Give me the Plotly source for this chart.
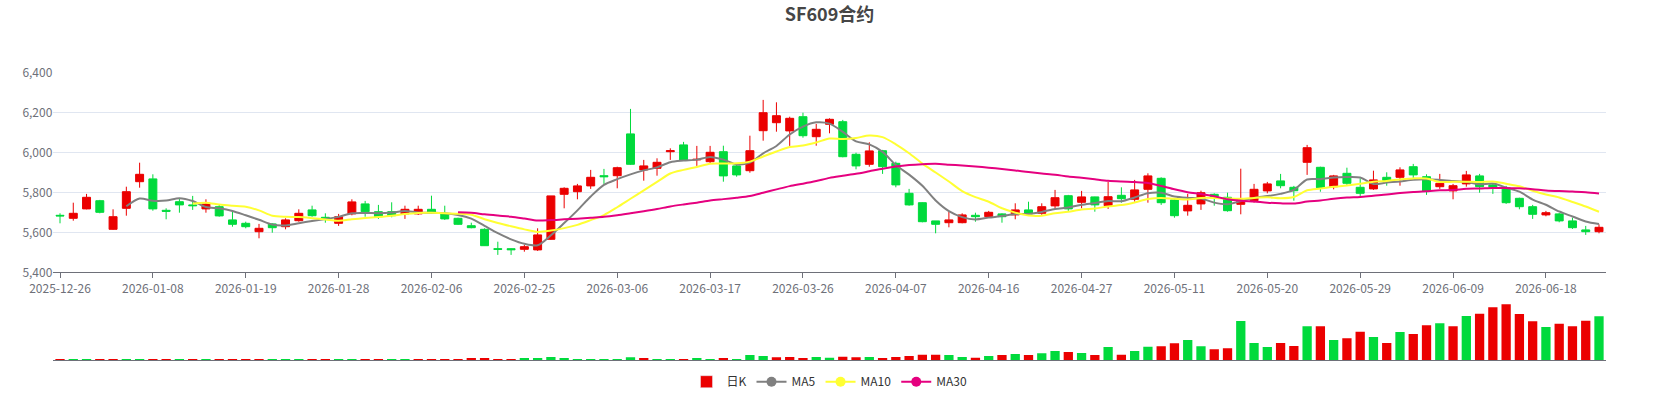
import pandas as pd
import plotly.graph_objects as go

# trading days SF609 (exchange holidays removed)
holidays = ['2026-01-01', '2026-01-02', '2026-02-16', '2026-02-17', '2026-02-18', '2026-02-19',
            '2026-02-20', '2026-02-23', '2026-04-06', '2026-05-01', '2026-05-04', '2026-05-05', '2026-06-19']
days = pd.bdate_range('2025-12-26', '2026-06-25')
dates = [d.strftime('%Y-%m-%d') for d in days if d.strftime('%Y-%m-%d') not in holidays]

opens = [5685, 5670, 5717, 5758, 5615, 5720, 5853, 5867, 5710, 5753,
         5737, 5717, 5728, 5662, 5645, 5603, 5642, 5628, 5658, 5712,
         5675, 5645, 5692, 5742, 5703, 5703, 5692, 5692, 5715, 5692,
         5670, 5633, 5615, 5518, 5518, 5515, 5512, 5565, 5790, 5803,
         5832, 5883, 5883, 6092, 5912, 5920, 6003, 6037, 5962, 5953,
         6003, 5932, 5908, 6108, 6148, 6107, 6178, 6078, 6140, 6153,
         5990, 5940, 6008, 5945, 5795, 5748, 5657, 5648, 5648, 5685,
         5678, 5692, 5687, 5712, 5695, 5732, 5783, 5750, 5777, 5733,
         5785, 5765, 5815, 5870, 5762, 5707, 5742, 5790, 5775, 5740,
         5758, 5807, 5857, 5825, 5950, 5925, 5828, 5895, 5825, 5817,
         5875, 5875, 5928, 5878, 5828, 5807, 5842, 5882, 5837, 5823,
         5770, 5728, 5687, 5692, 5657, 5612, 5603]
closes = [5682, 5695, 5775, 5700, 5678, 5803, 5890, 5717, 5705, 5737,
          5733, 5742, 5682, 5640, 5628, 5620, 5623, 5662, 5695, 5683,
          5668, 5678, 5752, 5703, 5678, 5683, 5715, 5715, 5698, 5667,
          5640, 5623, 5533, 5515, 5513, 5528, 5587, 5782, 5820, 5832,
          5875, 5878, 5923, 5940, 5932, 5950, 6008, 5962, 5965, 6000,
          5882, 5887, 6008, 6198, 6183, 6170, 6083, 6115, 6165, 5978,
          5932, 6007, 5928, 5837, 5737, 5653, 5640, 5662, 5687, 5678,
          5700, 5678, 5712, 5692, 5728, 5773, 5717, 5777, 5737, 5778,
          5768, 5812, 5882, 5748, 5683, 5735, 5798, 5778, 5708, 5762,
          5815, 5842, 5833, 5808, 6023, 5823, 5882, 5845, 5795, 5862,
          5858, 5912, 5887, 5807, 5845, 5833, 5887, 5828, 5825, 5748,
          5728, 5690, 5698, 5657, 5623, 5603, 5625]
lows = [5645, 5658, 5715, 5695, 5612, 5683, 5823, 5708, 5665, 5698,
        5712, 5698, 5678, 5628, 5620, 5570, 5598, 5615, 5653, 5678,
        5648, 5632, 5685, 5678, 5667, 5675, 5667, 5687, 5695, 5662,
        5637, 5620, 5532, 5487, 5487, 5503, 5507, 5562, 5720, 5765,
        5817, 5842, 5820, 5937, 5858, 5883, 5962, 5958, 5932, 5945,
        5853, 5878, 5898, 6058, 6103, 6032, 6073, 6033, 6095, 5975,
        5915, 5928, 5892, 5825, 5733, 5650, 5595, 5625, 5645, 5653,
        5675, 5648, 5665, 5687, 5687, 5715, 5707, 5720, 5703, 5717,
        5748, 5753, 5748, 5737, 5673, 5683, 5712, 5733, 5703, 5690,
        5748, 5795, 5820, 5758, 5887, 5803, 5815, 5837, 5778, 5812,
        5833, 5833, 5870, 5787, 5817, 5765, 5828, 5798, 5792, 5742,
        5715, 5667, 5680, 5650, 5617, 5587, 5595]
highs = [5695, 5748, 5792, 5762, 5715, 5828, 5948, 5890, 5720, 5770,
         5782, 5765, 5737, 5703, 5653, 5642, 5645, 5670, 5715, 5733,
         5695, 5692, 5765, 5757, 5737, 5750, 5733, 5733, 5783, 5733,
         5673, 5648, 5620, 5553, 5520, 5537, 5620, 5782, 5825, 5842,
         5912, 5917, 5928, 6217, 5962, 5970, 6020, 6052, 6032, 6032,
         6033, 5942, 6083, 6262, 6250, 6178, 6198, 6142, 6170, 6162,
         5998, 6050, 6012, 5953, 5817, 5750, 5657, 5703, 5695, 5698,
         5707, 5695, 5745, 5753, 5745, 5812, 5787, 5807, 5778, 5853,
         5825, 5862, 5895, 5875, 5765, 5792, 5808, 5795, 5798, 5918,
         5842, 5852, 5892, 5832, 6037, 5928, 5887, 5923, 5870, 5908,
         5900, 5925, 5942, 5890, 5892, 5842, 5907, 5892, 5842, 5832,
         5773, 5737, 5707, 5698, 5673, 5632, 5640]
volumes = [100, 100, 100, 100, 100, 200, 200, 200, 200, 200,
           200, 200, 200, 200, 200, 100, 100, 100, 200, 100,
           100, 200, 200, 200, 200, 200, 200, 200, 300, 300,
           300, 400, 400, 300, 300, 400, 600, 900, 600, 300,
           200, 300, 200, 800, 500, 200, 300, 300, 400, 200,
           400, 300, 1500, 1200, 800, 900, 500, 900, 700, 1000,
           800, 900, 600, 900, 1200, 1600, 1600, 1500, 900, 700,
           1200, 1500, 1800, 1500, 2000, 2700, 2400, 2100, 1500, 3900,
           1600, 2700, 4000, 4100, 5000, 6000, 4100, 3200, 3500, 11700,
           5100, 3900, 5100, 4200, 10100, 10100, 6000, 6500, 8500, 6900,
           5100, 8400, 7800, 10400, 11000, 10100, 13200, 13900, 15800, 16700,
           13800, 11600, 9900, 10900, 10100, 11800, 13100]

UP = '#eb0000'
DOWN = '#00da3c'
AXIS_GREY = '#6E7079'
FONT = 'Noto Sans CJK SC, Noto Sans, sans-serif'


def calculate_ma(day_count):
    # same rule as the source chart: first value at index day_count
    result = []
    for i in range(len(closes)):
        if i < day_count:
            result.append(None)
            continue
        result.append(sum(closes[i - j] for j in range(day_count)) / day_count)
    return result


# volume colour: compared with previous close
vol_colors = [UP] + [DOWN if closes[i] > closes[i - 1] else UP for i in range(1, len(closes))]

fig = go.Figure()
fig.add_trace(go.Candlestick(
    x=dates, open=opens, high=highs, low=lows, close=closes, name='日K',
    increasing=dict(line=dict(color=UP, width=1), fillcolor=UP),
    decreasing=dict(line=dict(color=DOWN, width=1), fillcolor=DOWN),
    showlegend=False, xaxis='x', yaxis='y'))

ma_lines = [('MA5', 5, '#808080'), ('MA10', 10, '#ffff33'), ('MA30', 30, '#e5007f')]
for name, n, color in ma_lines:
    fig.add_trace(go.Scatter(
        x=dates, y=calculate_ma(n), mode='lines', name=name, legendgroup=name,
        line=dict(color=color, width=2, shape='spline', smoothing=0.8),
        showlegend=False, xaxis='x', yaxis='y'))

fig.add_trace(go.Bar(x=dates, y=volumes, marker=dict(color=vol_colors, line=dict(width=0)),
                     showlegend=False, xaxis='x2', yaxis='y2'))

# legend entries
fig.add_trace(go.Bar(x=[None], y=[None], name='日K', marker_color=UP, xaxis='x', yaxis='y'))
for name, n, color in ma_lines:
    fig.add_trace(go.Scatter(x=[None], y=[None], mode='lines+markers', name=name, legendgroup=name,
                             line=dict(color=color, width=2), marker=dict(color=color, size=10),
                             xaxis='x', yaxis='y'))

n = len(dates)
x_dom = [53.37 / 1659, 1605.63 / 1659]
fig.update_layout(
    width=1659, height=400,
    margin=dict(l=0, r=0, t=0, b=0, autoexpand=False),
    paper_bgcolor='white', plot_bgcolor='white',
    font=dict(family=FONT, size=12, color=AXIS_GREY),
    title=dict(text='SF609合约', x=0.5, xanchor='center', y=1 - 15 / 400, yanchor='middle',
               font=dict(family=FONT, size=18, color='#464646', weight='bold')),
    boxgap=0.4, boxgroupgap=0, bargap=0.3,
    showlegend=True,
    legend=dict(orientation='h', x=0.5, xanchor='center', y=1 - 381.7 / 400, yanchor='middle',
                font=dict(family=FONT, size=12, color='#333333'), itemwidth=30,
                bgcolor='rgba(0,0,0,0)'),
    xaxis=dict(domain=x_dom, type='category', range=[-0.5, n - 0.5], anchor='y',
               rangeslider=dict(visible=False), showgrid=False,
               showline=True, linecolor=AXIS_GREY, linewidth=1,
               ticks='outside', ticklen=5, tickcolor=AXIS_GREY,
               tickvals=dates[::7], ticktext=dates[::7], tickfont=dict(size=12, color=AXIS_GREY)),
    yaxis=dict(domain=[(400 - 272.3) / 400, (400 - 72.3) / 400], range=[5400, 6400], anchor='x',
               tickvals=[5400, 5600, 5800, 6000, 6200, 6400], tickformat=',d',
               showgrid=True, gridcolor='#E0E6F1', gridwidth=1, zeroline=False, showline=False,
               ticks='', tickfont=dict(size=12, color=AXIS_GREY)),
    xaxis2=dict(domain=x_dom, type='category', range=[-0.5, n - 0.5], anchor='y2', matches='x',
                showgrid=False, showline=True, linecolor=AXIS_GREY, linewidth=1,
                showticklabels=False, ticks='', rangeslider=dict(visible=False)),
    yaxis2=dict(domain=[0.1, 0.25], range=[0, 18000], anchor='x2', visible=False, showgrid=False),
)

# page body has a default 8px margin; drop it so the figure sits at the page origin
fig.write_html('out.html', config={'displayModeBar': False},
               post_script="document.body.style.margin='0px';")
